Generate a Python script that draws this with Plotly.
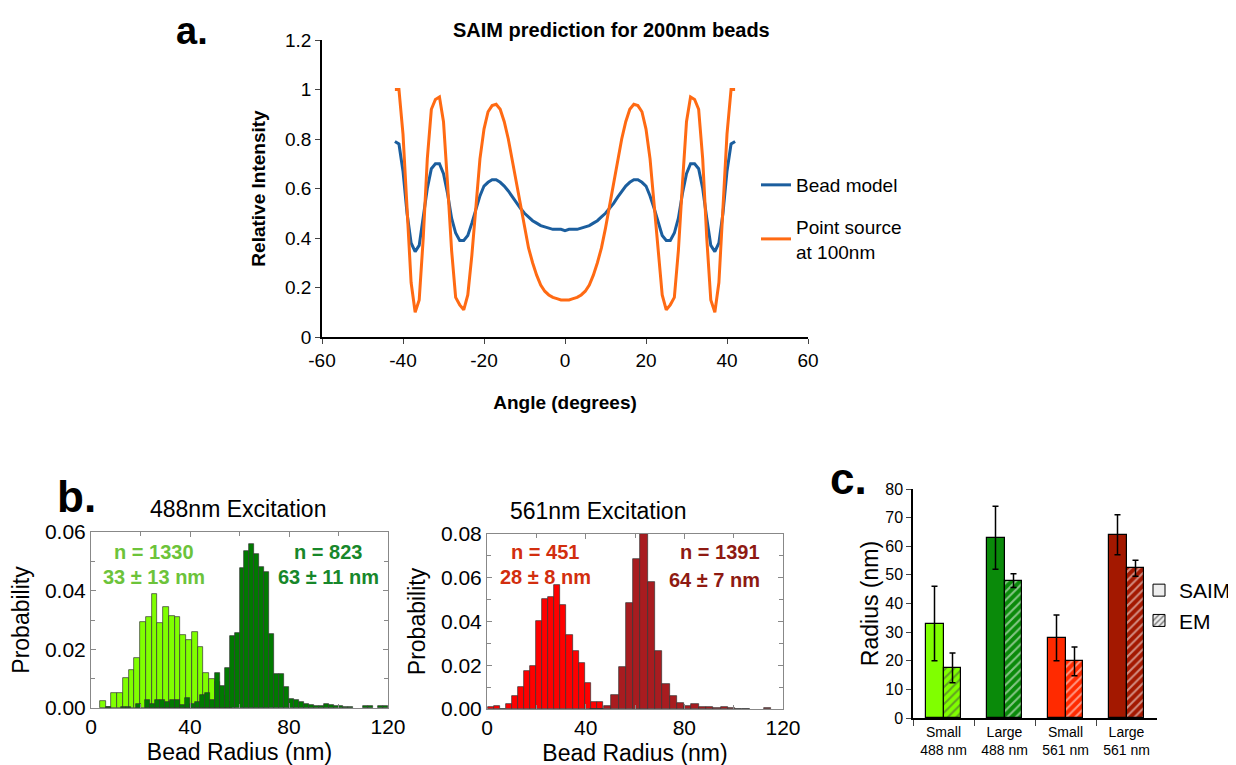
import plotly.graph_objects as go

FONT = "Liberation Sans, Arial, Helvetica, sans-serif"

# ---- panel a: SAIM prediction ----
angle_deg = [-42, -41, -40, -39, -38, -37, -36, -35, -34, -33, -32, -31, -30, -29, -28,
             -27, -26, -25, -24, -23, -22, -21, -20, -19, -18, -17, -16, -15, -14, -13,
             -12, -11, -10, -9, -8, -7, -6, -5, -4, -3, -2, -1, 0, 1, 2, 3, 4, 5, 6, 7,
             8, 9, 10, 11, 12, 13, 14, 15, 16, 17, 18, 19, 20, 21, 22, 23, 24, 25, 26,
             27, 28, 29, 30, 31, 32, 33, 34, 35, 36, 37, 38, 39, 40, 41, 42]
bead_model = [0.79, 0.78, 0.67, 0.50, 0.38, 0.345, 0.37, 0.48, 0.60, 0.68, 0.70, 0.70,
              0.66, 0.58, 0.48, 0.42, 0.39, 0.39, 0.41, 0.46, 0.52, 0.57, 0.61, 0.625,
              0.635, 0.635, 0.625, 0.61, 0.59, 0.565, 0.54, 0.52, 0.50, 0.485, 0.47, 0.46,
              0.45, 0.445, 0.44, 0.435, 0.435, 0.435, 0.43,
              0.435, 0.435, 0.435, 0.44, 0.445, 0.45, 0.46, 0.47, 0.485, 0.50, 0.52, 0.54,
              0.565, 0.59, 0.61, 0.625, 0.635, 0.635, 0.625, 0.61, 0.57, 0.52, 0.46, 0.41,
              0.39, 0.39, 0.42, 0.48, 0.58, 0.66, 0.70, 0.70, 0.68, 0.60, 0.48, 0.37,
              0.345, 0.38, 0.50, 0.67, 0.78, 0.79]
point_source = [1.00, 1.00, 0.82, 0.52, 0.22, 0.10, 0.15, 0.40, 0.72, 0.92, 0.96, 0.97,
                0.87, 0.62, 0.35, 0.16, 0.13, 0.11, 0.17, 0.33, 0.54, 0.72, 0.84, 0.91,
                0.935, 0.94, 0.92, 0.87, 0.80, 0.71, 0.62, 0.53, 0.44, 0.36, 0.30, 0.25,
                0.21, 0.185, 0.17, 0.16, 0.155, 0.15, 0.15,
                0.15, 0.155, 0.16, 0.17, 0.185, 0.21, 0.25, 0.30, 0.36, 0.44, 0.53, 0.62,
                0.71, 0.80, 0.87, 0.92, 0.94, 0.935, 0.91, 0.84, 0.72, 0.54, 0.33, 0.17,
                0.11, 0.13, 0.16, 0.35, 0.62, 0.87, 0.97, 0.96, 0.92, 0.72, 0.40, 0.15,
                0.10, 0.22, 0.52, 0.82, 1.00, 1.00]
angle_ticks = [-60, -40, -20, 0, 20, 40, 60]
angle_ticktext = ["-60", "-40", "-20", "0", "20", "40", "60"]

# ---- panel b: radius histograms ----
g_small_x = [4.76, 7.08, 9.40, 11.72, 14.04, 16.36, 18.68, 21.00, 23.32, 25.64, 27.96,
             30.28, 32.60, 34.92, 37.24, 39.56, 41.88, 44.20, 46.52, 48.84, 51.16, 53.48,
             55.80]
g_small_p = [0.0025, 0.0003, 0.0052, 0.0052, 0.0103, 0.013, 0.017, 0.0294, 0.0309, 0.0389,
             0.0289, 0.0345, 0.0315, 0.0311, 0.0249, 0.0232, 0.0258, 0.0209, 0.012, 0.0098,
             0.009, 0.004, 0.002]
g_large_x = [7, 13, 15, 19, 23, 25, 27, 29, 31, 33, 35, 37, 39, 41, 43, 45, 47, 49, 51, 53,
             55, 57, 59, 61, 63, 65, 67, 69, 71, 73, 75, 77, 79, 81, 83, 85, 87, 89, 91, 93,
             95, 97, 99, 101, 103, 105, 111, 113, 117, 119]
g_large_p = [0.0005, 0.0005, 0.0005, 0.0013, 0.0028, 0.0013, 0.0028, 0.0028, 0.002, 0.0028,
             0.0028, 0.001, 0.0033, 0.0013, 0.002, 0.0043, 0.005, 0.0028, 0.012, 0.0075,
             0.0135, 0.0247, 0.0255, 0.0476, 0.0535, 0.0558, 0.0524, 0.048, 0.0465, 0.0252,
             0.0115, 0.0115, 0.0072, 0.0031, 0.0026, 0.002, 0.0014, 0.001, 0.0007, 0.0007,
             0.0014, 0.001, 0.0007, 0.0006, 0.0005, 0.0003, 0.0007, 0.0007, 0.0006, 0.0006]
r_small_x = [1.6, 4.05, 6.5, 8.95, 11.4, 13.85, 16.3, 18.75, 21.2, 23.65, 26.1, 28.55, 31.0,
             33.45, 35.9, 38.35, 40.8, 43.25, 45.7]
r_small_p = [0.0008, 0.0014, 0.0, 0.0023, 0.006, 0.0099, 0.0172, 0.0198, 0.0402, 0.0503,
             0.0514, 0.0569, 0.0476, 0.0337, 0.0267, 0.0209, 0.0117, 0.0034, 0.0034]
r_large_x = [43.05, 46.0, 48.95, 51.9, 54.85, 57.8, 60.75, 63.7, 66.65, 69.6, 72.55, 75.5,
             78.45, 81.4, 84.35, 87.3, 90.25, 93.2, 96.15, 99.1, 102.05, 105.0, 113.85]
r_large_p = [0.0002, 0.0002, 0.0015, 0.0064, 0.019, 0.0483, 0.0686, 0.080, 0.0582, 0.0267,
             0.0113, 0.0061, 0.0026, 0.0014, 0.0023, 0.0008, 0.0008, 0.0005, 0.0008, 0.0005,
             0.0002, 0.0002, 0.0005]

# ---- panel c: SAIM vs EM ----
c_cats = ["Small<br>488 nm", "Large<br>488 nm", "Small<br>561 nm", "Large<br>561 nm"]
saim_radius = [33, 63, 28, 64]
saim_err = [13, 11, 8, 7]
em_radius = [17.5, 48, 19.8, 52.3]
em_err = [5.2, 2.4, 5.0, 2.8]

c_colors = ["#80FF00", "#0A8A0A", "#FF2A00", "#A31800"]

W, H = 1236, 765
PAD = 8  # page body margin that offsets the plot in the browser


def px(x):
    return (x - PAD) / W


def py(y):
    return 1 - (y - PAD) / H


fig = go.Figure()

fig.add_trace(go.Scatter(x=angle_deg, y=bead_model, mode="lines", name="Bead model",
                         line=dict(color="#1B5E9E", width=3), legendgroup="a1"))
fig.add_trace(go.Scatter(x=angle_deg, y=point_source, mode="lines",
                         name="Point source<br>at 100nm", legendgroup="a2",
                         line=dict(color="#FF6A13", width=3)))

hist_line = dict(color="#333333", width=0.7)
fig.add_trace(go.Bar(x=g_small_x, y=g_small_p, width=2.32, marker=dict(color="#80FF00", line=hist_line),
                     xaxis="x2", yaxis="y2", showlegend=False))
fig.add_trace(go.Bar(x=g_large_x, y=g_large_p, width=2.0, marker=dict(color="#007A00", line=hist_line),
                     xaxis="x2", yaxis="y2", showlegend=False))
fig.add_trace(go.Bar(x=r_small_x, y=r_small_p, width=2.45, marker=dict(color="#FF0000", line=hist_line),
                     xaxis="x3", yaxis="y3", showlegend=False))
fig.add_trace(go.Bar(x=r_large_x, y=r_large_p, width=2.95, marker=dict(color="#A81C20", line=hist_line),
                     xaxis="x3", yaxis="y3", showlegend=False))

bw = 0.295
fig.add_trace(go.Bar(x=c_cats, y=saim_radius, width=bw, offset=-bw,
                     marker=dict(color=c_colors, line=dict(color="black", width=1.2)),
                     error_y=dict(type="data", array=saim_err, color="black", thickness=1.5, width=3),
                     xaxis="x4", yaxis="y4", showlegend=False))
fig.add_trace(go.Bar(x=c_cats, y=em_radius, width=bw, offset=0,
                     marker=dict(color=c_colors, line=dict(color="black", width=1.2),
                                 pattern=dict(shape="/", fgcolor="black", size=6, solidity=0.35)),
                     error_y=dict(type="data", array=em_err, color="black", thickness=1.5, width=3),
                     xaxis="x4", yaxis="y4", showlegend=False))
# legend swatches for panel c
fig.add_trace(go.Bar(x=[None], y=[None], name="SAIM", legend="legend2",
                     marker=dict(color="#EEEEEE", line=dict(color="black", width=1)),
                     xaxis="x4", yaxis="y4"))
fig.add_trace(go.Bar(x=[None], y=[None], name="EM", legend="legend2",
                     marker=dict(color="#EEEEEE", line=dict(color="black", width=1),
                                 pattern=dict(shape="/", fgcolor="black", size=5, solidity=0.35)),
                     xaxis="x4", yaxis="y4"))

tf = dict(family=FONT, size=19, color="black")
hf = dict(family=FONT, size=21, color="black")
gray = "#888888"

hist_x = dict(range=[0, 120], dtick=40, ticks="inside", ticklen=5, tickcolor=gray,
              showline=True, linecolor=gray, linewidth=1, mirror="ticks", showgrid=False,
              zeroline=False, tickfont=hf, automargin=False,
              minor=dict(dtick=20, ticks="inside", ticklen=4, tickcolor=gray),
              title=dict(text="Bead Radius (nm)", font=dict(family=FONT, size=23), standoff=6))
hist_y = dict(dtick=0.02, tickformat=".2f", ticks="inside", ticklen=5, tickcolor=gray,
              showline=True, linecolor=gray, linewidth=1, mirror="ticks", showgrid=False,
              zeroline=False, tickfont=hf, automargin=False,
              minor=dict(dtick=0.01, ticks="inside", ticklen=4, tickcolor=gray),
              title=dict(text="Probability", font=dict(family=FONT, size=23), standoff=8))

fig.update_layout(
    width=W, height=H, margin=dict(l=0, r=0, t=0, b=0, autoexpand=False),
    paper_bgcolor="white", plot_bgcolor="white", barmode="overlay", bargap=0,
    font=dict(family=FONT, color="black"),
    xaxis=dict(domain=[px(322), px(808)], range=[-60, 60], tickvals=angle_ticks,
               ticktext=angle_ticktext, ticks="outside", automargin=False,
               ticklen=5, showline=True, linecolor="black", linewidth=1.5, showgrid=False,
               zeroline=False, tickfont=tf,
               title=dict(text="<b>Angle (degrees)</b>", font=dict(family=FONT, size=19), standoff=26)),
    yaxis=dict(domain=[py(337), py(40)], range=[0, 1.2], dtick=0.2, ticks="outside",
               ticklen=5, showline=True, linecolor="black", linewidth=1.5, showgrid=False,
               zeroline=False, tickfont=tf, automargin=False,
               title=dict(text="<b>Relative Intensity</b>", font=dict(family=FONT, size=19), standoff=14)),
    xaxis2=dict(domain=[px(91), px(388)], anchor="y2", **hist_x),
    yaxis2=dict(domain=[py(708), py(532)], anchor="x2", range=[0, 0.06], **hist_y),
    xaxis3=dict(domain=[px(487), px(783)], anchor="y3", **hist_x),
    yaxis3=dict(domain=[py(709), py(534)], anchor="x3", range=[0, 0.08], **hist_y),
    xaxis4=dict(domain=[px(913), px(1157)], anchor="y4", type="category", range=[-0.5, 3.5],
                ticks="outside", tickson="boundaries", ticklen=6, showline=True, linecolor="black",
                linewidth=1.5, showgrid=False, tickfont=dict(family=FONT, size=14), automargin=False),
    yaxis4=dict(domain=[py(718), py(489)], anchor="x4", range=[0, 80], dtick=10, ticks="outside",
                ticklen=5, showline=True, linecolor="black", linewidth=1.5, showgrid=False,
                zeroline=False, tickfont=dict(family=FONT, size=16), automargin=False,
                title=dict(text="Radius (nm)", font=dict(family=FONT, size=23), standoff=0)),
    legend=dict(x=px(756), y=py(166), xanchor="left", yanchor="top", bgcolor="rgba(0,0,0,0)",
                font=dict(family=FONT, size=19), tracegroupgap=14, itemwidth=30),
    legend2=dict(x=px(1139), y=py(570), xanchor="left", yanchor="top", bgcolor="rgba(0,0,0,0)",
                 font=dict(family=FONT, size=21), itemwidth=30),
)

ann = [
    dict(x=px(192), y=1.0, text="<b>a.</b>", size=38, anchor="top"),
    dict(x=px(76), y=py(497), text="<b>b.</b>", size=44),
    dict(x=px(848), y=py(478), text="<b>c.</b>", size=44),
    dict(x=px(611), y=py(30), text="<b>SAIM prediction for 200nm beads</b>", size=20),
    dict(x=px(238), y=py(509), text="488nm Excitation", size=23),
    dict(x=px(598), y=py(511), text="561nm Excitation", size=23),
    dict(x=px(154), y=py(552), text="<b>n = 1330</b>", size=20, color="#6CC33A"),
    dict(x=px(154), y=py(577), text="<b>33 ± 13 nm</b>", size=20, color="#6CC33A"),
    dict(x=px(328), y=py(552), text="<b>n = 823</b>", size=20, color="#17872A"),
    dict(x=px(328), y=py(577), text="<b>63 ± 11 nm</b>", size=20, color="#17872A"),
    dict(x=px(545), y=py(552), text="<b>n = 451</b>", size=20, color="#D22E0E"),
    dict(x=px(545), y=py(577), text="<b>28 ± 8 nm</b>", size=20, color="#D22E0E"),
    dict(x=px(720), y=py(552), text="<b>n = 1391</b>", size=20, color="#8E1A12"),
    dict(x=px(714), y=py(580), text="<b>64 ± 7 nm</b>", size=20, color="#8E1A12"),
]
for a in ann:
    fig.add_annotation(x=a["x"], y=a["y"], xref="paper", yref="paper", text=a["text"],
                       showarrow=False, xanchor="center", yanchor=a.get("anchor", "middle"),
                       font=dict(family=FONT, size=a["size"], color=a.get("color", "black")))

fig.write_html("out.html")
